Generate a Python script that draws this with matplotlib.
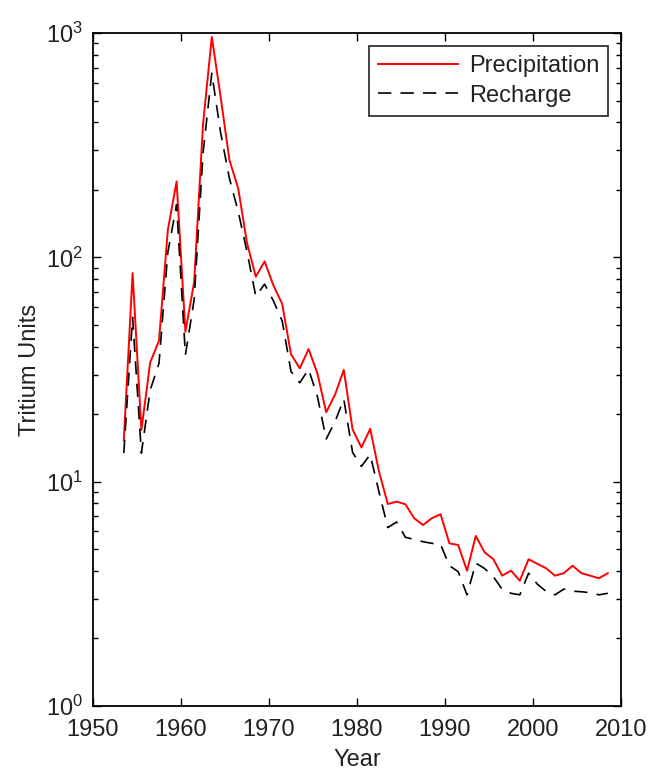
import matplotlib
matplotlib.use("Agg")
import matplotlib.pyplot as plt
from matplotlib.ticker import LogLocator, FixedLocator, NullFormatter
import numpy as np

plt.rcParams['font.family'] = ['Liberation Sans', 'DejaVu Sans']
plt.rcParams['mathtext.fontset'] = 'custom'
plt.rcParams['mathtext.rm'] = 'Liberation Sans'
plt.rcParams['mathtext.it'] = 'Liberation Sans'
plt.rcParams['mathtext.default'] = 'regular'

years = [1953.5 + i for i in range(56)]

precipitation = [15.3, 85, 17, 34, 42.5, 132, 218, 46.6, 78, 390,
                 960, 520, 272, 203, 116, 82, 96, 75, 62, 37,
                 32, 39, 30.4, 20.4, 24.4, 31.5, 17.1, 14.2, 17.2, 11.1,
                 7.95, 8.15, 7.93, 6.87, 6.41, 6.87, 7.16, 5.31, 5.22, 4.01,
                 5.73, 4.84, 4.51, 3.81, 4.01, 3.62, 4.51, 4.30, 4.11, 3.81,
                 3.91, 4.22, 3.91, 3.81, 3.71, 3.91]

recharge = [13.4, 54, 13.4, 25.6, 33.7, 105, 172, 36.7, 65, 290,
            662, 360, 225, 160, 106, 67, 76, 64, 52, 31,
            27.6, 31.7, 24, 15.5, 18.5, 23.3, 13.5, 11.7, 13.2, 9.0,
            6.24, 6.61, 5.65, 5.53, 5.40, 5.31, 5.25, 4.22, 3.97, 3.13,
            4.33, 4.1, 3.77, 3.31, 3.18, 3.13, 3.91, 3.49, 3.24, 3.13,
            3.32, 3.25, 3.23, 3.20, 3.13, 3.18]

fig = plt.figure(figsize=(6.5, 7.7), dpi=100)
ax = fig.add_axes([93/650, 1 - 706/770, (621-93)/650, (706-33)/770])

ax.plot(years, precipitation, color='red', lw=1.4, label='Precipitation')
ax.plot(years, recharge, color='black', lw=1.2, dashes=(8, 5.5), label='Recharge')

ax.set_yscale('log')
ax.set_xlim(1950, 2010)
ax.set_ylim(1, 1000)
ax.set_xticks([1950, 1960, 1970, 1980, 1990, 2000, 2010])
ax.yaxis.set_major_locator(FixedLocator([1, 10, 100, 1000]))
ax.set_yticklabels([r'$10^{0}$', r'$10^{1}$', r'$10^{2}$', r'$10^{3}$'])
ax.yaxis.set_minor_locator(LogLocator(base=10, subs=np.arange(2, 10)))
ax.yaxis.set_minor_formatter(NullFormatter())

ax.tick_params(which='both', direction='in', top=True, right=True,
               labelsize=17, width=1.0, colors='black')
ax.tick_params(which='major', length=6)
ax.tick_params(axis='x', which='major', pad=9)
ax.tick_params(axis='y', which='major', pad=7)
ax.tick_params(which='minor', length=3.5)
for lab in ax.get_xticklabels() + ax.get_yticklabels():
    lab.set_color('#222222')
for s in ax.spines.values():
    s.set_linewidth(1.3)

ax.set_xlabel('Year', fontsize=17, color='#222222', labelpad=6)
ax.set_ylabel('Tritium Units', fontsize=17, color='#222222', labelpad=4)

leg = ax.legend(loc='upper right', fontsize=17, frameon=True, fancybox=False,
                edgecolor='black', handlelength=3.4, borderaxespad=0.55,
                borderpad=0.38, labelspacing=0.33, handletextpad=0.45)
leg.get_frame().set_linewidth(1.3)
for t in leg.get_texts():
    t.set_color('#222222')

fig.savefig('out.png', dpi=100)
